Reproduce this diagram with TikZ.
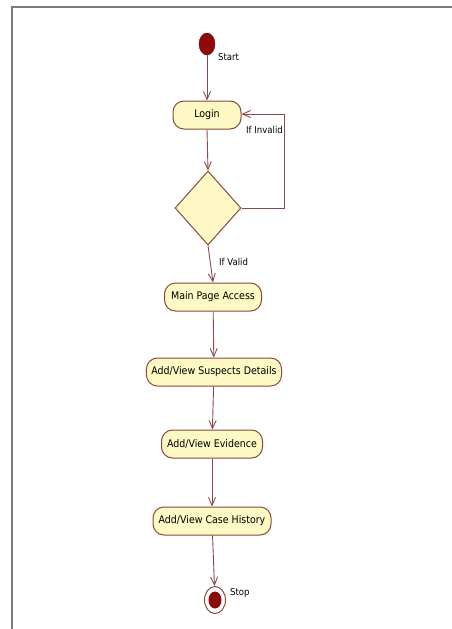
\documentclass[tikz,border=0pt]{standalone}
\usepackage{fontspec}
\setmainfont{DejaVu Sans Condensed}
\usetikzlibrary{arrows.meta,shapes.geometric}
\definecolor{actfill}{HTML}{FDF8C4}
\definecolor{actline}{HTML}{8A4A3A}
\definecolor{flow}{HTML}{8E4A4A}
\definecolor{dot}{HTML}{8B0A0A}
\definecolor{frame}{HTML}{7A7A7A}
\tikzset{
  actbox/.style={draw=actline, fill=actfill, line width=1pt, rounded corners=11pt,
    minimum height=28pt, inner xsep=5pt, font=\fontsize{10.5}{12}\selectfont},
  decide/.style={draw=actline, fill=actfill, line width=1pt, diamond, inner sep=0pt,
    minimum width=66pt, minimum height=74pt},
  flowline/.style={draw=flow, line width=0.9pt, -{Straight Barb[length=8pt,width=7pt]}},
  lbl/.style={font=\fontsize{9.5}{10}\selectfont, text=black, inner sep=0pt},
}
\begin{document}
\begin{tikzpicture}[x=1pt,y=-1pt]
\useasboundingbox (0,0) rectangle (452,629);
\fill[white] (0,0) rectangle (452,629);
\draw[frame, line width=1.6pt] (12,629) -- (12,7) -- (452,7);

\node[ellipse, fill=dot, draw=dot!80!black, minimum width=16pt, minimum height=22pt, inner sep=0pt] (start) at (207,44) {};
\node[lbl, anchor=west] (startlbl) at (218,57) {Start};

\node[actbox, minimum width=68pt] (login) at (207,115) {Login};
\node[decide] (dia) at (208,208) {};
\node[actbox, minimum width=97pt] (main) at (213,297) {Main Page Access};
\node[actbox, minimum width=134pt] (susp) at (214,372) {Add/View Suspects Details};
\node[actbox, minimum width=101pt] (evid) at (212,444) {Add/View Evidence};
\node[actbox, minimum width=118pt] (hist) at (212,521) {Add/View Case History};

\node[ellipse, draw=actline, fill=white, line width=1pt, minimum width=21pt, minimum height=27pt, inner sep=0pt] (stop) at (215,600) {};
\fill[dot] (stop.center) ellipse (6.5pt and 8.5pt);
\node[lbl, anchor=west] (stoplbl) at (230,593) {Stop};

\coordinate (loopA) at (284,208);
\coordinate (loopB) at (284,114);

\draw[flowline] (start) -- (login);
\draw[flowline] (login.south) -- (dia.north);
\draw[flowline] (dia.east) -- (loopA) -- (loopB) -- (login.east |- loopB);
\draw[flowline] (dia.south) -- (main.north);
\draw[flowline] (main) -- (susp);
\draw[flowline] (susp) -- (evid);
\draw[flowline] (evid) -- (hist);
\draw[flowline] (hist) -- (stop);

\node[lbl, anchor=west] (invlbl) at (246,130) {If Invalid};
\node[lbl, anchor=west] (vallbl) at (219,262) {If Valid};
\end{tikzpicture}
\end{document}
